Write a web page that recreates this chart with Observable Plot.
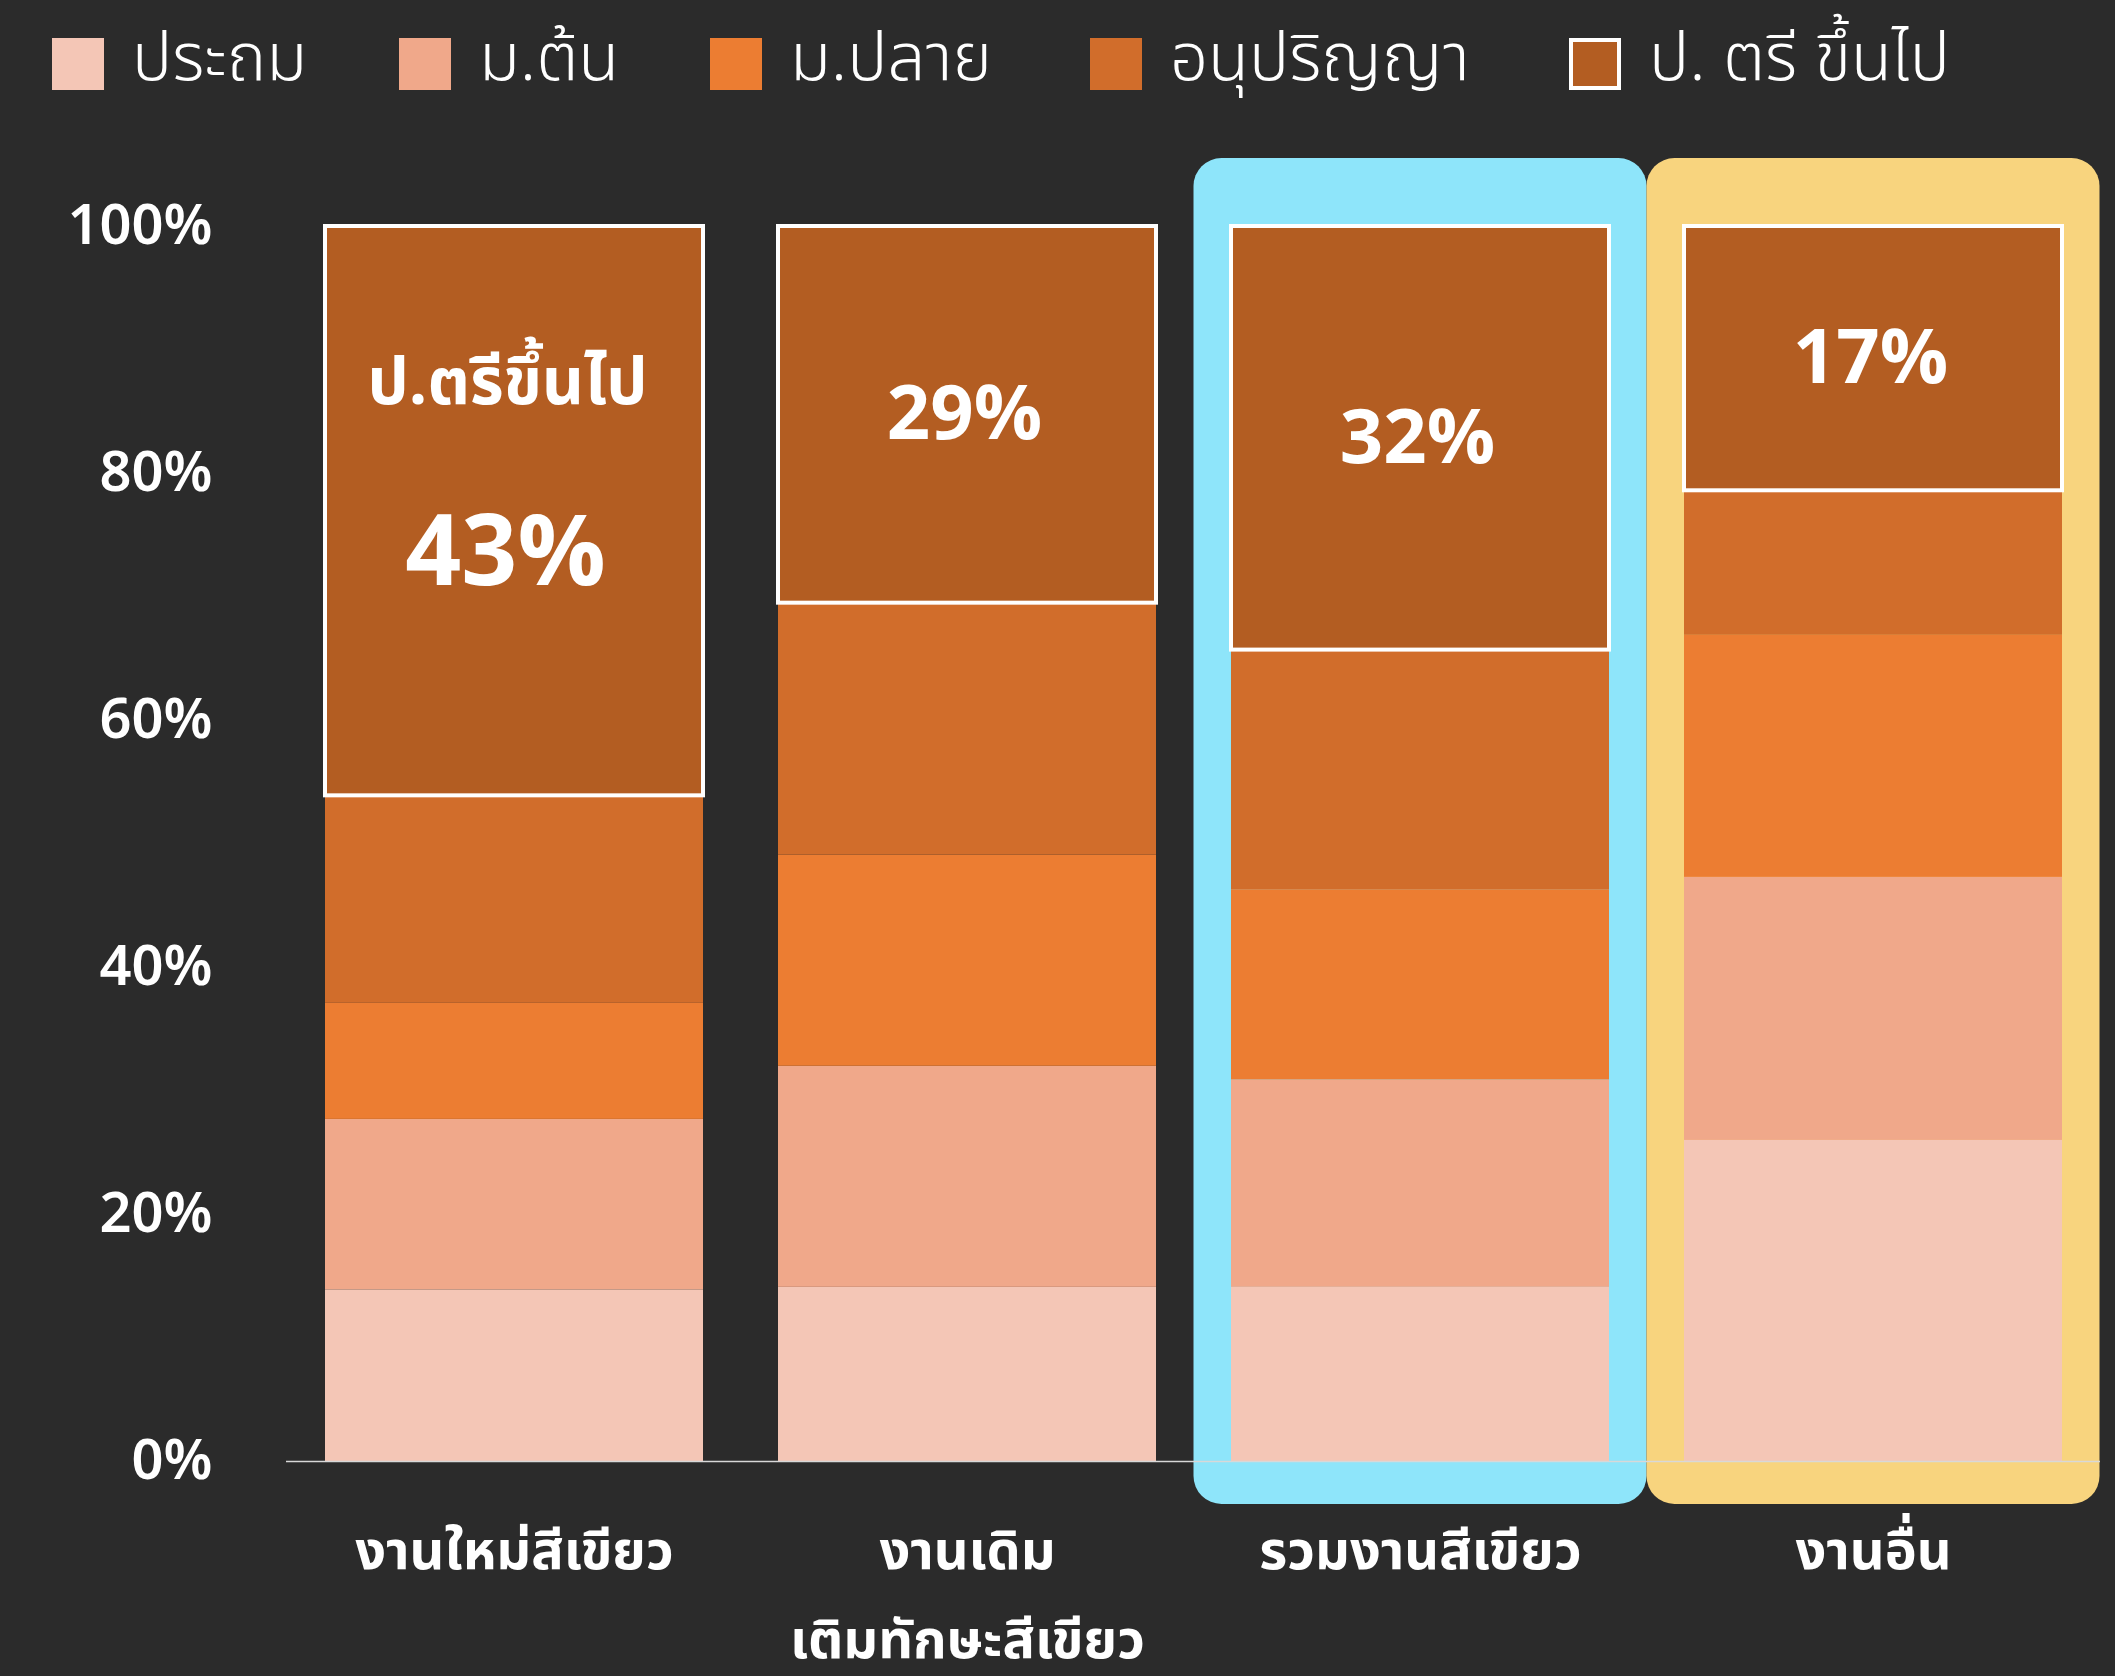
<!DOCTYPE html>
<html>
<head>
<meta charset="utf-8">
<script src="https://cdn.jsdelivr.net/npm/d3@7"></script>
<script src="https://cdn.jsdelivr.net/npm/@observablehq/plot@0.6"></script>
<style>
  html, body { margin: 0; padding: 0; background: #2b2b2b; }
  body { width: 2115px; height: 1676px; overflow: hidden; font-family: "Noto Sans Thai", "Noto Sans", sans-serif; }
  #legend { position: relative; height: 110px; }
  .item { position: absolute; top: 38px; display: flex; align-items: center; }
  .sw { width: 52px; height: 52px; box-sizing: border-box; flex: none; }
  .lab { color: #fff; font-size: 67px; line-height: 52px; margin-left: 28px; font-weight: 300; white-space: nowrap; position: relative; top: -4px; }
</style>
</head>
<body>
<div id="legend"></div>
<div id="chart"></div>
<script>
const categories = ["งานใหม่สีเขียว", "งานเดิม\nเติมทักษะสีเขียว", "รวมงานสีเขียว", "งานอื่น"];
const levels = ["ประถม", "ม.ต้น", "ม.ปลาย", "อนุปริญญา", "ป.ตรีขึ้นไป"];
const legendLabels = ["ประถม", "ม.ต้น", "ม.ปลาย", "อนุปริญญา", "ป. ตรี ขึ้นไป"];
const colors = ["#f4c6b6", "#f0a88a", "#ec7d32", "#d16d2b", "#b35d22"];
// values per level for each category, percent
const primary   = [13.9, 14.1, 14.1, 26.0];
const lowerSec  = [13.8, 17.9, 16.8, 21.3];
const upperSec  = [9.4, 17.1, 15.4, 19.6];
const diploma   = [16.8, 20.4, 19.4, 11.7];
const bachelor  = [46.1, 30.5, 34.3, 21.4];
const topLabels = ["43%", "29%", "32%", "17%"];
const firstBarTitle = "ป.ตรีขึ้นไป";
const yTicks = [0, 20, 40, 60, 80, 100];
const highlightBlue = ["รวมงานสีเขียว"];
const highlightYellow = ["งานอื่น"];

const series = [primary, lowerSec, upperSec, diploma, bachelor];
const data = [];
series.forEach((vals, li) => vals.forEach((v, ci) => data.push({cat: categories[ci], level: levels[li], value: v})));
const lower = categories.map((c, i) => primary[i] + lowerSec[i] + upperSec[i] + diploma[i]);
const total = categories.map((c, i) => lower[i] + bachelor[i]);
const tops = categories.map((c, i) => ({cat: c, y1: lower[i], y2: total[i], mid: (lower[i] + total[i]) / 2, label: topLabels[i]}));

// legend
const legend = document.getElementById("legend");
const lefts = [52, 399, 710, 1090, 1569];
legendLabels.forEach((t, i) => {
  const it = document.createElement("div");
  it.className = "item";
  it.style.left = lefts[i] + "px";
  const sw = document.createElement("div");
  sw.className = "sw";
  sw.style.background = colors[i];
  if (i === 4) sw.style.border = "4px solid #fff";
  const lb = document.createElement("div");
  lb.className = "lab";
  lb.textContent = t;
  it.appendChild(sw); it.appendChild(lb);
  legend.appendChild(it);
});

const fontFam = '"Noto Sans Thai", "Noto Sans", sans-serif';
const chart = Plot.plot({
  width: 2115,
  height: 1566,
  marginTop: 116,
  marginBottom: 215,
  marginLeft: 286,
  marginRight: 15,
  style: {background: "#2b2b2b", color: "#fff", fontFamily: fontFam, overflow: "visible"},
  x: {domain: categories, paddingInner: 0.166, paddingOuter: 0.085, label: null},
  y: {domain: [0, 100], label: null},
  color: {domain: levels, range: colors},
  marks: [
    Plot.barY(highlightBlue, {x: d => d, y1: 0, y2: 100, fill: "#8ee5fa", insetTop: -68, insetBottom: -43, insetLeft: -37.5, insetRight: -37.5, rx: 28}),
    Plot.barY(highlightYellow, {x: d => d, y1: 0, y2: 100, fill: "#f8d47e", insetTop: -68, insetBottom: -43, insetLeft: -37.5, insetRight: -37.5, rx: 28}),
    Plot.barY(data, {x: "cat", y: "value", fill: "level", order: levels}),
    Plot.barY(tops, {x: "cat", y1: "y1", y2: "y2", fill: "none", stroke: "#fff", strokeWidth: 4}),
    Plot.ruleY([0], {stroke: "#d8d8d8", strokeWidth: 1.5}),
    Plot.axisY({ticks: yTicks, tickFormat: d => d + "%", tickSize: 0, tickPadding: 74, fontSize: 56, fontWeight: 600, fill: "#fff"}),
    Plot.axisX({tickSize: 0, tickPadding: 44, fontSize: 54, fontWeight: 700, fill: "#fff", lineHeight: 1.65}),
    Plot.text(tops.slice(1), {x: "cat", y: "mid", text: "label", fill: "#fff", fontSize: 76, fontWeight: 700, dx: -3}),
    Plot.text(tops.slice(0, 1), {x: "cat", y: "mid", text: () => firstBarTitle, fill: "#fff", fontSize: 65, fontWeight: 700, dy: -128, dx: -7}),
    Plot.text(tops.slice(0, 1), {x: "cat", y: "mid", text: "label", fill: "#fff", fontSize: 98, fontWeight: 700, dy: 42, dx: -9})
  ]
});
document.getElementById("chart").appendChild(chart);
</script>
</body>
</html>
